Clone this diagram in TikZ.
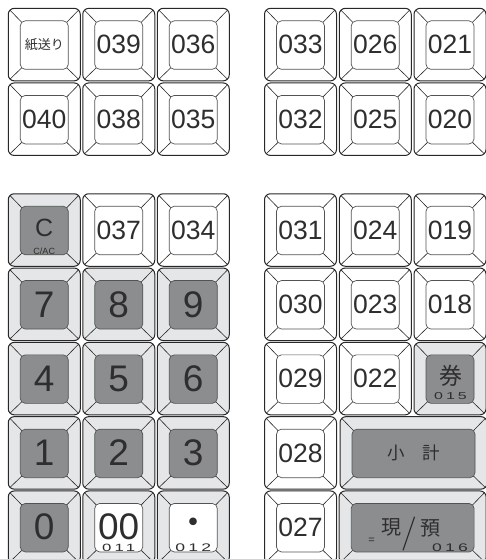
\documentclass[tikz,border=0pt]{standalone}
\usepackage{fontspec}
\setmainfont{Liberation Sans}
\newfontfamily\jpfont{Noto Sans CJK JP}
\newfontfamily\lmfont{Latin Modern Roman}
\newfontfamily\widefont[FakeStretch=1.6,LetterSpace=30]{Liberation Sans}
\usetikzlibrary{positioning, calc}

\definecolor{keygray}{RGB}{229,230,232}
\definecolor{keydark}{RGB}{140,141,143}
\definecolor{keyline}{RGB}{40,40,40}
\colorlet{keytopcol}{white}

\begin{document}
\begin{tikzpicture}[x=1pt, y=-1pt,
    keytop/.code={\colorlet{keytopcol}{#1}},
    keycap/.style={rectangle, draw=keyline, line width=1pt, rounded corners=6pt,
        minimum width=72pt, minimum height=72.5pt, inner sep=0pt, text=black!82,
        font=\fontsize{26.5}{26.5}\selectfont,
        path picture={
            \draw[keyline, line width=0.6pt]
                (path picture bounding box.north west) -- ++(15pt,-15.5pt)
                (path picture bounding box.north east) -- ++(-15pt,-15.5pt)
                (path picture bounding box.south west) -- ++(15pt,14.5pt)
                (path picture bounding box.south east) -- ++(-15pt,14.5pt);
            \draw[keyline!80, line width=0.7pt, rounded corners=5pt, fill=keytopcol]
                ($(path picture bounding box.south west)+(12pt,11.5pt)$)
                rectangle ($(path picture bounding box.north east)+(-12pt,-12.5pt)$);
        }},
    whitekey/.style={keycap, fill=white, keytop=white},
    darkkey/.style={keycap, fill=keygray, keytop=keydark},
    lightkey/.style={keycap, fill=keygray, keytop=white},
    widekey/.style={minimum width=147pt},
    bignum/.style={font=\fontsize{37}{37}\selectfont},
    jptext/.style={font=\jpfont\fontsize{#1}{#1}\selectfont, text=black!82, inner sep=0pt},
    subnum/.style={font=\widefont\fontsize{#1}{#1}\selectfont, text=black!82, inner sep=0pt},
    smalltext/.style={font=\fontsize{#1}{#1}\selectfont, text=black!82, inner sep=0pt}
]
    \useasboundingbox (0,0) rectangle (485,559);

    % Upper left block
    \node[whitekey, jptext=13] (feed) at (44.25,44.6) {紙送り};
    \node[whitekey] (k039) at (118.75,44.6) {039};
    \node[whitekey] (k036) at (193.25,44.6) {036};
    \node[whitekey] (k040) at (44.25,119.2) {040};
    \node[whitekey] (k038) at (118.75,119.2) {038};
    \node[whitekey] (k035) at (193.25,119.2) {035};

    % Upper right block
    \node[whitekey] (k033) at (300.5,44.6) {033};
    \node[whitekey] (k026) at (375.25,44.6) {026};
    \node[whitekey] (k021) at (450,44.6) {021};
    \node[whitekey] (k032) at (300.5,119.2) {032};
    \node[whitekey] (k025) at (375.25,119.2) {025};
    \node[whitekey] (k020) at (450,119.2) {020};

    % Ten keys
    \node[darkkey, smalltext=25, text depth=4pt] (clear) at (44.25,230) {C};
    \node[whitekey] (k037) at (118.75,230) {037};
    \node[whitekey] (k034) at (193.25,230) {034};
    \node[darkkey, bignum] (n7) at (44.25,304.3) {7};
    \node[darkkey, bignum] (n8) at (118.75,304.3) {8};
    \node[darkkey, bignum] (n9) at (193.25,304.3) {9};
    \node[darkkey, bignum] (n4) at (44.25,378.6) {4};
    \node[darkkey, bignum] (n5) at (118.75,378.6) {5};
    \node[darkkey, bignum] (n6) at (193.25,378.6) {6};
    \node[darkkey, bignum] (n1) at (44.25,452.9) {1};
    \node[darkkey, bignum] (n2) at (118.75,452.9) {2};
    \node[darkkey, bignum] (n3) at (193.25,452.9) {3};
    \node[darkkey, bignum] (n0) at (44.25,527.2) {0};
    \node[lightkey, bignum] (n00) at (118.75,527.2) {00};
    \node[lightkey, jptext=36] (point) at (193.25,527.2) {・};

    \node[smalltext=9] (cac) [above=12pt of clear.south] {C/AC};
    \node[subnum=10.5] (s011) [above=12.5pt of n00.south] {011};
    \node[subnum=11] (s012) [above=12.5pt of point.south] {012};

    % Function keys
    \node[whitekey] (k031) at (300.5,230) {031};
    \node[whitekey] (k024) at (375.25,230) {024};
    \node[whitekey] (k019) at (450,230) {019};
    \node[whitekey] (k030) at (300.5,304.3) {030};
    \node[whitekey] (k023) at (375.25,304.3) {023};
    \node[whitekey] (k018) at (450,304.3) {018};
    \node[whitekey] (k029) at (300.5,378.6) {029};
    \node[whitekey] (k022) at (375.25,378.6) {022};
    \node[darkkey] (ticket) at (450,378.6) {};
    \node[whitekey] (k028) at (300.5,452.9) {028};
    \node[darkkey, widekey, jptext=17.5] (subtotal) at (413.5,452.9) {小　計};
    \node[whitekey] (k027) at (300.5,527.2) {027};
    \node[darkkey, widekey] (cash) at (412.6,527.2) {};

    \node[jptext=23] (ken) at ($(ticket)+(0.5,-3)$) {券};
    \node[subnum=10] (s015) at ($(ticket)+(0.5,17.6)$) {015};
    \node[jptext=20] (gen) at ($(cash)+(-21.6,0.3)$) {現};
    \node[font=\lmfont\fontsize{34}{34}\selectfont, text=black!85, inner sep=0pt] (slash) at ($(cash)+(-3.6,6.3)$) {/};
    \node[jptext=20] (yo) at ($(cash)+(17.4,0.8)$) {預};
    \node[smalltext=11] (eq) at ($(cash)+(-41,13.3)$) {=};
    \node[subnum=11] (s016) at ($(cash)+(37.4,20.3)$) {016};

\end{tikzpicture}
\end{document}
